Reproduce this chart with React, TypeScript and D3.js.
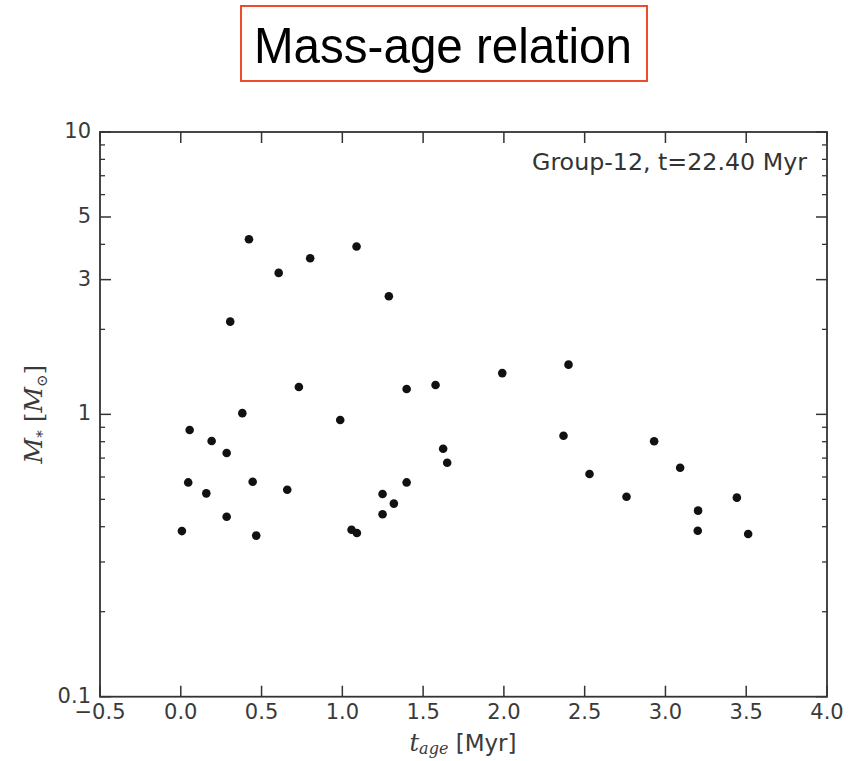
import React from "react";
import * as d3 from "d3";

const ages = [
  0.422, 0.606, 0.306, 0.381, 0.055, 0.731, 0.191, 0.284, 0.046, 0.158,
  0.445, 0.659, 0.284, 0.007, 0.467, 0.801, 1.088, 1.288, 1.398, 1.577,
  1.99, 2.4, 0.987, 2.369, 1.624, 1.649, 1.398, 1.249, 1.319, 1.249,
  1.057, 1.09, 2.93, 2.53, 3.091, 2.759, 3.442, 3.202, 3.2, 3.512,
];
const masses = [
  4.17, 3.17, 2.13, 1.01, 0.88, 1.25, 0.805, 0.73, 0.574, 0.525,
  0.577, 0.541, 0.434, 0.386, 0.372, 3.57, 3.93, 2.62, 1.23, 1.27,
  1.4, 1.5, 0.955, 0.84, 0.755, 0.674, 0.574, 0.522, 0.483, 0.443,
  0.39, 0.38, 0.803, 0.615, 0.647, 0.511, 0.507, 0.456, 0.387, 0.377,
];

const xTicks = [-0.5, 0, 0.5, 1, 1.5, 2, 2.5, 3, 3.5, 4];
const xTickLabels = ["\u22120.5", "0.0", "0.5", "1.0", "1.5", "2.0", "2.5", "3.0", "3.5", "4.0"];
const yTicks = [0.1, 1, 3, 5, 10];
const yTickLabels = ["0.1", "1", "3", "5", "10"];
const yMinorTicks = [0.2, 0.3, 0.4, 0.5, 0.6, 0.7, 0.8, 0.9, 2, 4, 6, 7, 8, 9];

const title = "Mass-age relation";
const annotation = "Group-12, t=22.40 Myr";

const W = 860;
const H = 761;
const L = 100;
const R = 827;
const T = 132;
const B = 696.7;

const AX = "#333";
const TXT = "#3a3a3a";
const SANS = "'DejaVu Sans', Verdana, sans-serif";
const SERIF = "'DejaVu Serif', 'Liberation Serif', serif";

export default function App() {
  const x = d3.scaleLinear().domain([-0.5, 4.0]).range([L, R]);
  const y = d3.scaleLog().domain([0.1, 10]).range([B, T]);
  const majorLen = 11;
  const minorLen = 5;

  return (
    <div style={{ position: "absolute", left: 0, top: 0, width: W, height: H, background: "#fff" }}>
      <svg width={W} height={H} viewBox={`0 0 ${W} ${H}`} style={{ display: "block" }}>
        <rect width={W} height={H} fill="#fff" />
        {/* Title box */}
        <rect x={241} y={6} width={406} height={75} fill="#fff" stroke="#ee4b2b" strokeWidth={2} />
        <text
          x={443}
          y={63}
          textAnchor="middle"
          fontFamily="'Liberation Sans', Arial, sans-serif"
          fontSize={50}
          textLength={378}
          lengthAdjust="spacingAndGlyphs"
          fill="#000"
        >
          {title}
        </text>

        {/* X ticks (bottom and top, inward) */}
        {xTicks.map((t, i) => (
          <g key={`xt${i}`}>
            <line x1={x(t)} x2={x(t)} y1={B} y2={B - majorLen} stroke={AX} strokeWidth={1.5} />
            <line x1={x(t)} x2={x(t)} y1={T} y2={T + majorLen} stroke={AX} strokeWidth={1.5} />
            <text x={x(t)} y={719} textAnchor="middle" fontFamily={SANS} fontSize={21} fill={TXT}>
              {xTickLabels[i]}
            </text>
          </g>
        ))}

        {/* Y major ticks */}
        {yTicks.map((t, i) => (
          <g key={`yt${i}`}>
            <line x1={L} x2={L + majorLen} y1={y(t)} y2={y(t)} stroke={AX} strokeWidth={1.5} />
            <line x1={R} x2={R - majorLen} y1={y(t)} y2={y(t)} stroke={AX} strokeWidth={1.5} />
            <text x={91} y={y(t) + 6} textAnchor="end" fontFamily={SANS} fontSize={21} fill={TXT}>
              {yTickLabels[i]}
            </text>
          </g>
        ))}
        {/* Y minor ticks */}
        {yMinorTicks.map((t, i) => (
          <g key={`ym${i}`}>
            <line x1={L} x2={L + minorLen} y1={y(t)} y2={y(t)} stroke={AX} strokeWidth={1.3} />
            <line x1={R} x2={R - minorLen} y1={y(t)} y2={y(t)} stroke={AX} strokeWidth={1.3} />
          </g>
        ))}

        {/* Frame */}
        <rect x={L} y={T} width={R - L} height={B - T} fill="none" stroke={AX} strokeWidth={1.8} />

        {/* Points */}
        {ages.map((a, i) => (
          <circle key={`p${i}`} cx={x(a)} cy={y(masses[i])} r={4.3} fill="#111" />
        ))}

        {/* Annotation */}
        <text
          x={807}
          y={170}
          textAnchor="end"
          fontFamily={SANS}
          fontSize={22.5}
          textLength={275}
          lengthAdjust="spacingAndGlyphs"
          fill="#333"
        >
          {annotation}
        </text>

        {/* X label */}
        <text x={463} y={751} textAnchor="middle" fill={TXT} fontSize={23}>
          <tspan fontFamily={SERIF} fontStyle="italic" fontSize={24}>t</tspan>
          <tspan fontFamily={SERIF} fontStyle="italic" fontSize={16} dy={3}>age</tspan>
          <tspan fontFamily={SANS} dy={-3}>{"\u00A0[Myr]"}</tspan>
        </text>

        {/* Y label */}
        <text
          transform="translate(42,414) rotate(-90)"
          textAnchor="middle"
          fill={TXT}
          fontFamily={SERIF}
          fontSize={25}
        >
          <tspan fontStyle="italic">M</tspan>
          <tspan fontSize={15} dy={5}>*</tspan>
          <tspan dy={-5}>{"\u00A0["}</tspan>
          <tspan fontStyle="italic">M</tspan>
          <tspan fontSize={15} dy={5}>{"\u2299"}</tspan>
          <tspan dy={-5}>]</tspan>
        </text>
      </svg>
    </div>
  );
}
